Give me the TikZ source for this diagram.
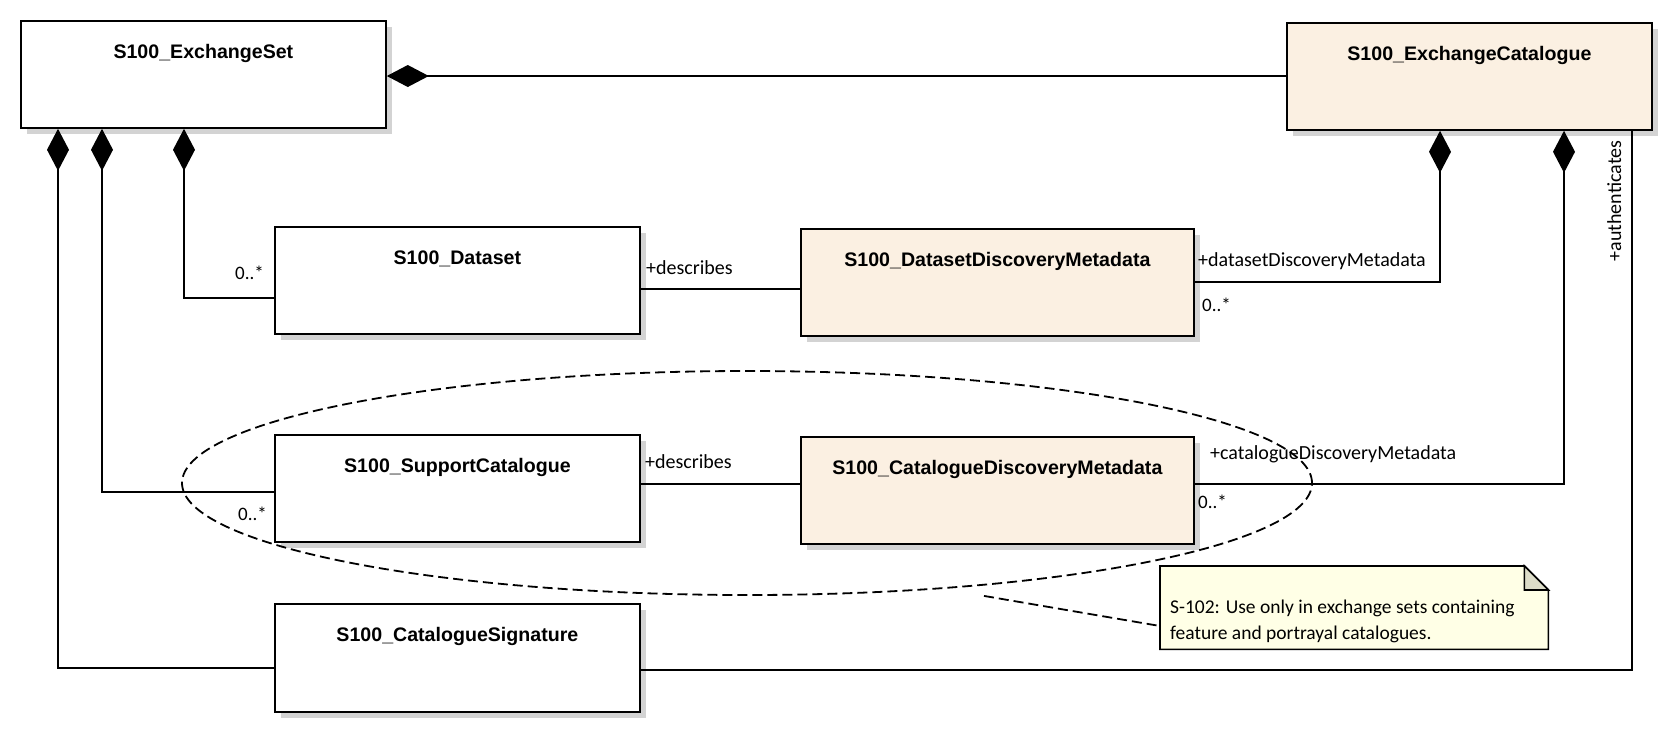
\documentclass[tikz,border=0pt]{standalone}
\usepackage{fontspec}
\setmainfont{Carlito}
\newfontfamily\arialfont{Liberation Sans}
\usetikzlibrary{arrows.meta,shapes.geometric,shadows,calc}
\definecolor{beige}{RGB}{251,240,226}
\definecolor{notefill}{RGB}{255,255,230}
\definecolor{foldfill}{RGB}{220,220,200}
\definecolor{shadowgray}{RGB}{211,211,211}
\begin{document}
\begin{tikzpicture}[x=1pt,y=-1pt,
  umlbox/.style={draw, line width=1.8pt, fill=white, anchor=north west, inner sep=0pt,
    minimum width=365pt, minimum height=107pt,
    drop shadow={shadow xshift=6pt, shadow yshift=-6pt, fill=shadowgray, opacity=1}},
  metabox/.style={umlbox, fill=beige},
  title/.style={anchor=base, font=\arialfont\bfseries\fontsize{19.6}{22}\selectfont},
  role/.style={anchor=base west, inner sep=0pt, font=\fontsize{20}{22}\selectfont},
  mult/.style={inner sep=0pt, font=\fontsize{19}{22}\selectfont},
  conn/.style={line width=1.4pt},
  comp/.style={conn, {Diamond[length=42pt,width=22pt]}-},
  dashline/.style={line width=1.8pt, dash pattern=on 10pt off 5pt},
  notetext/.style={anchor=base west, inner sep=0pt, font=\fontsize{19.5}{22}\selectfont}
]
\fill[white] (0,0) rectangle (1672,732);
\useasboundingbox (0,0) rectangle (1672,732);

% boxes
\node[umlbox] (es) at (20,20) {};
\node[metabox] (ec) at (1286,22) {};
\node[umlbox] (ds) at (274,226) {};
\node[metabox, minimum width=393pt] (ddm) at (800,228) {};
\node[umlbox] (sc) at (274,434) {};
\node[metabox, minimum width=393pt] (cdm) at (800,436) {};
\node[umlbox, minimum height=108pt] (cs) at (274,603) {};

% titles
\node[title] (esT) at ($(es.north)+(0,38)$) {S100\_ExchangeSet};
\node[title] (ecT) at ($(ec.north)+(0,38)$) {S100\_ExchangeCatalogue};
\node[title] (dsT) at ($(ds.north)+(0,38)$) {S100\_Dataset};
\node[title] (ddmT) at ($(ddm.north)+(0,38)$) {S100\_DatasetDiscoveryMetadata};
\node[title] (scT) at ($(sc.north)+(0,38)$) {S100\_SupportCatalogue};
\node[title] (cdmT) at ($(cdm.north)+(0,38)$) {S100\_CatalogueDiscoveryMetadata};
\node[title] (csT) at ($(cs.north)+(0,38)$) {S100\_CatalogueSignature};

% bend points
\coordinate (b1) at (184,298);
\coordinate (b2) at (102,492);
\coordinate (b3) at (58,668);
\coordinate (b4) at (1440,282);
\coordinate (b5) at (1564,484);
\coordinate (b6) at (1632,670);
\coordinate (r1) at (700,289);
\coordinate (r2) at (700,484);
\coordinate (r0) at (800,76);

% connectors
\draw[comp] (es.east |- r0) -- (ec.west |- r0);
\draw[comp] (es.south -| b1) -- (b1) -- (b1 -| ds.west);
\draw[comp] (es.south -| b2) -- (b2) -- (b2 -| sc.west);
\draw[comp] (es.south -| b3) -- (b3) -- (b3 -| cs.west);
\draw[conn] (ds.east |- r1) -- (ddm.west |- r1);
\draw[conn] (sc.east |- r2) -- (cdm.west |- r2);
\draw[comp] (ec.south -| b4) -- (b4) -- (b4 -| ddm.east);
\draw[comp] (ec.south -| b5) -- (b5) -- (b5 -| cdm.east);
\draw[conn] (cs.east |- b6) -- (b6) -- (b6 |- ec.south);

% labels
\node[role] (l1) at (646,274) {+describes};
\node[role] (l2) at (645,468) {+describes};
\node[role] (l3) at (1198,266) {+datasetDiscoveryMetadata};
\node[role] (l4) at (1210,459) {+catalogueDiscoveryMetadata};
\node[mult, anchor=base west] (m1) at (1202,311) {0..*};
\node[mult, anchor=base west] (m2) at (1198,508) {0..*};
\node[mult, anchor=base east] (m3) at (264,279) {0..*};
\node[mult, anchor=base east] (m4) at (267,520) {0..*};
\node[role, anchor=base, rotate=90] (l5) at (1621,201) {+authenticates};

% boundary ellipse
\node[draw, dashline, ellipse, inner sep=0pt,
  minimum width=1130pt, minimum height=224pt] (ell) at (747,483) {};

% note
\node[inner sep=0pt, anchor=north west, minimum width=388pt, minimum height=83pt] (note) at (1160,566) {};
\draw[line width=1.6pt, fill=notefill] (note.north west) -- ($(note.north east)+(-24,0)$)
  -- ($(note.north east)+(0,24)$) -- (note.south east) -- (note.south west) -- cycle;
\draw[line width=1.6pt, fill=foldfill, line join=miter] ($(note.north east)+(-24,0)$)
  -- ($(note.north east)+(-24,24)$) -- ($(note.north east)+(0,24)$) -- cycle;
\node[notetext] (n1) at (1170,613) {S-102: Use only in exchange sets containing};
\node[notetext] (n2) at (1170,639) {feature and portrayal catalogues.};
\coordinate (nc) at (984,597);
\coordinate (nd) at (1100,626);
\draw[dashline] (ell.south -| nc) -- (note.west |- nd);
\end{tikzpicture}
\end{document}
